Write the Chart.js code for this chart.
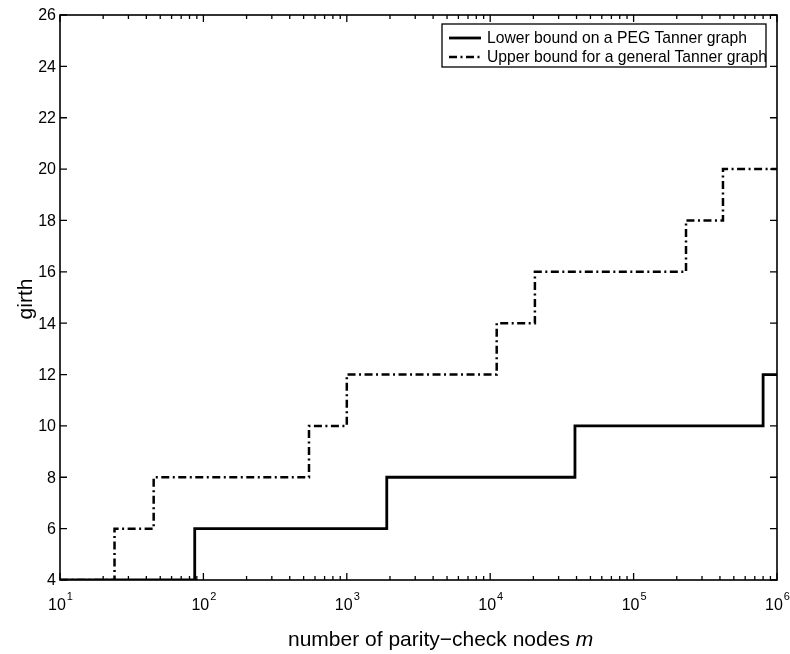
<!DOCTYPE html>
<html>
<head>
<meta charset="utf-8">
<script src="https://cdn.jsdelivr.net/npm/chart.js@4/dist/chart.umd.min.js"></script>
<style>
  html, body { margin: 0; padding: 0; background: #fff; }
  #wrap { width: 790px; height: 654px; }
</style>
</head>
<body>
<div id="wrap"><canvas id="girth" width="790" height="654"></canvas></div>
<script>
// ---- data: step points (m where the girth bound jumps, new girth value) ----
const lowerM     = [10, 87, 1900, 39000, 800000, 1000000];
const lowerGirth = [4, 6, 8, 10, 12, 12];

const upperM     = [10, 24, 45, 545, 1000, 11100, 20500, 232000, 420000, 1000000];
const upperGirth = [4, 6, 8, 10, 12, 14, 16, 18, 20, 20];

const seriesNames = ['Lower bound on a PEG Tanner graph', 'Upper bound for a general Tanner graph'];

// ---- axis ticks ----
const yTicks      = [4, 6, 8, 10, 12, 14, 16, 18, 20, 22, 24, 26];
const xDecades    = [10, 100, 1000, 10000, 100000, 1000000];
const xExponents  = ['1', '2', '3', '4', '5', '6'];
const xMinorMults = [2, 3, 4, 5, 6, 7, 8, 9];

const xTitle = 'number of parity\u2212check nodes ';
const xTitleVar = 'm';
const yTitle = 'girth';

const FONT = '"Liberation Sans", Arial, Helvetica, sans-serif';
const DASH_DOT = [8, 3.5, 2, 3.5];

const toPoints = (xs, ys) => xs.map((x, i) => ({ x, y: ys[i] }));

// ------------------------------------------------------------
//  Axes im MATLAB-Stil: Rahmen, Ticks nach innen, Beschriftung
// ------------------------------------------------------------
const matlabAxes = {
  id: 'matlabAxes',
  afterDatasetsDraw(chart) {
    const { ctx, chartArea: a, scales: { x, y } } = chart;
    ctx.save();
    ctx.strokeStyle = '#000';
    ctx.fillStyle = '#000';
    ctx.lineWidth = 1.6;
    ctx.setLineDash([]);
    ctx.strokeRect(a.left, a.top, a.right - a.left, a.bottom - a.top);

    ctx.beginPath();
    // y ticks, links und rechts
    yTicks.forEach(v => {
      const py = y.getPixelForValue(v);
      ctx.moveTo(a.left, py);  ctx.lineTo(a.left + 7, py);
      ctx.moveTo(a.right, py); ctx.lineTo(a.right - 7, py);
    });
    // x ticks (Dekaden + Zwischenwerte), unten und oben
    xDecades.forEach((d, i) => {
      const px = x.getPixelForValue(d);
      ctx.moveTo(px, a.bottom); ctx.lineTo(px, a.bottom - 7);
      ctx.moveTo(px, a.top);    ctx.lineTo(px, a.top + 7);
      if (i === xDecades.length - 1) return;
      xMinorMults.forEach(m => {
        const mx = x.getPixelForValue(d * m);
        ctx.moveTo(mx, a.bottom); ctx.lineTo(mx, a.bottom - 4);
        ctx.moveTo(mx, a.top);    ctx.lineTo(mx, a.top + 4);
      });
    });
    ctx.lineWidth = 1.3;
    ctx.stroke();

    // y tick labels
    ctx.font = `16px ${FONT}`;
    ctx.textAlign = 'right';
    ctx.textBaseline = 'middle';
    yTicks.forEach(v => ctx.fillText(String(v), a.left - 4, y.getPixelForValue(v) + 1));

    // x tick labels 10^k
    xDecades.forEach((d, i) => {
      const px = x.getPixelForValue(d);
      ctx.font = `16px ${FONT}`;
      const wBase = ctx.measureText('10').width;
      ctx.font = `11px ${FONT}`;
      const wExp = ctx.measureText(xExponents[i]).width;
      const left = px - (wBase + wExp) / 2;
      ctx.textAlign = 'left';
      ctx.textBaseline = 'alphabetic';
      ctx.font = `16px ${FONT}`;
      ctx.fillText('10', left, a.bottom + 30);
      ctx.font = `11px ${FONT}`;
      ctx.fillText(xExponents[i], left + wBase + 1, a.bottom + 20);
    });

    // Achsentitel
    ctx.font = `21px ${FONT}`;
    ctx.textAlign = 'left';
    ctx.textBaseline = 'alphabetic';
    const wT = ctx.measureText(xTitle).width;
    ctx.fillText(xTitle, 288, 646);
    ctx.font = `italic 21px ${FONT}`;
    ctx.fillText(xTitleVar, 288 + wT, 646);

    ctx.translate(26, 299);
    ctx.rotate(-Math.PI / 2);
    ctx.font = `21px ${FONT}`;
    ctx.textAlign = 'center';
    ctx.textBaseline = 'middle';
    ctx.fillText(yTitle, 0, 0);
    ctx.restore();
  }
};

// ------------------------------------------------------------
//  Legende im Plotbereich oben rechts
// ------------------------------------------------------------
const boxLegend = {
  id: 'boxLegend',
  afterDraw(chart) {
    const { ctx } = chart;
    const box = { left: 442, top: 24, right: 766, bottom: 67 };
    ctx.save();
    ctx.fillStyle = '#fff';
    ctx.fillRect(box.left, box.top, box.right - box.left, box.bottom - box.top);

    chart.data.datasets.forEach((ds, i) => {
      const cy = box.top + 14 + i * 19;
      ctx.beginPath();
      ctx.strokeStyle = '#000';
      ctx.lineWidth = ds.borderWidth;
      ctx.setLineDash(ds.borderDash || []);
      ctx.moveTo(449, cy);
      ctx.lineTo(481, cy);
      ctx.stroke();
      ctx.setLineDash([]);
      ctx.fillStyle = '#000';
      ctx.font = `15.7px ${FONT}`;
      ctx.textAlign = 'left';
      ctx.textBaseline = 'middle';
      ctx.fillText(ds.label, 487, cy + 1);
    });

    // Rahmen zuletzt, damit er über dem Text liegt
    ctx.strokeStyle = '#000';
    ctx.lineWidth = 1.3;
    ctx.setLineDash([]);
    ctx.strokeRect(box.left, box.top, box.right - box.left, box.bottom - box.top);
    ctx.restore();
  }
};

new Chart(document.getElementById('girth'), {
  type: 'line',
  data: {
    datasets: [
      {
        label: seriesNames[0],
        data: toPoints(lowerM, lowerGirth),
        stepped: true,
        borderColor: '#000',
        borderWidth: 2.8,
        pointRadius: 0,
        fill: false
      },
      {
        label: seriesNames[1],
        data: toPoints(upperM, upperGirth),
        stepped: true,
        borderColor: '#000',
        borderWidth: 2.5,
        borderDash: DASH_DOT,
        pointRadius: 0,
        fill: false
      }
    ]
  },
  options: {
    responsive: false,
    animation: false,
    layout: { padding: { left: 60, right: 13, top: 15, bottom: 74 } },
    scales: {
      x: { type: 'logarithmic', min: 10, max: 1000000, display: false },
      y: { type: 'linear', min: 4, max: 26, display: false }
    },
    plugins: {
      legend: { display: false },
      tooltip: { enabled: false }
    }
  },
  plugins: [matlabAxes, boxLegend]
});
</script>
</body>
</html>
